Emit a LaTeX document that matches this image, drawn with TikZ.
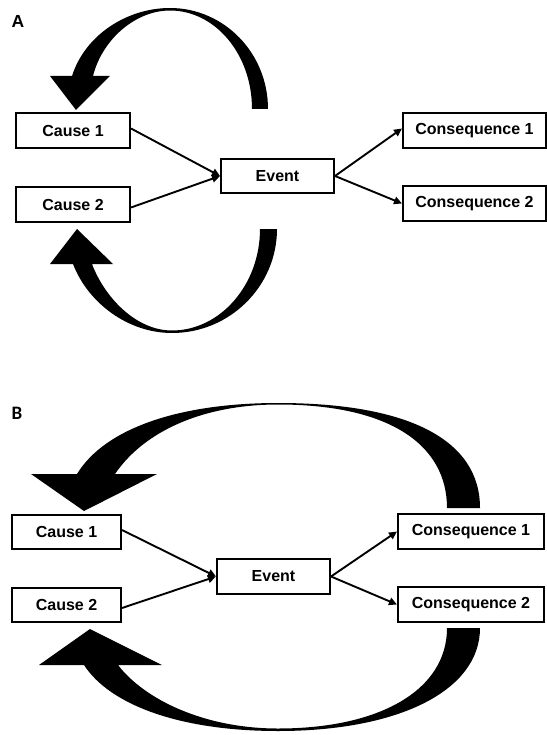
\documentclass[tikz,border=0pt]{standalone}
\usepackage{fontspec}
\setmainfont{Liberation Sans}
\newfontfamily\carlito{Carlito}
\usetikzlibrary{arrows.meta}
\tikzset{
  box/.style={draw, line width=2pt, rectangle, inner sep=0pt, font=\bfseries\fontsize{16}{19}\selectfont},
  conn/.style={line width=1.9pt, -{Triangle[length=8pt,width=7.5pt]}},
  biga/.style={fill=black},
  lbl/.style={inner sep=0pt, font=\bfseries\fontsize{17.5}{20}\selectfont}
}
\begin{document}
\begin{tikzpicture}[x=1pt,y=-1pt]
\useasboundingbox (0,0) rectangle (546,735);
\fill[white] (0,0) rectangle (546,735);
% ---------------- Panel A ----------------
\node[lbl] (la) at (18,21) {A};
\node[box, minimum width=114pt, minimum height=35pt] (a1) at (73,130.5) {Cause 1};
\node[box, minimum width=114pt, minimum height=35pt] (a2) at (73,204.5) {Cause 2};
\node[box, minimum width=113pt, minimum height=34pt] (ae) at (277.5,176) {Event};
\node[box, minimum width=143pt, minimum height=35pt] (aq1) at (474.5,130.5) {Consequence 1};
\node[box, minimum width=143pt, minimum height=35pt] (aq2) at (474.5,203.5) {Consequence 2};
\draw[conn] ([yshift=2pt]a1.east) -- (ae.west);
\draw[conn] ([yshift=-3pt]a2.east) -- (ae.west);
\draw[conn] (ae.east) -- ([yshift=2pt]aq1.west);
\draw[conn] (ae.east) -- (aq2.west);
% top curved arrow A
\fill[biga] (268,109) .. controls (268,53) and (224,8) .. (170,8)
  .. controls (127,8) and (85,35) .. (72,76)
  -- (50,76) -- (76,110) -- (110,76) -- (93,76)
  .. controls (102,40) and (135,10.5) .. (170,10.5)
  .. controls (215,10.5) and (252,54) .. (252,109) -- cycle;
% bottom curved arrow A
\fill[biga] (277,229) .. controls (277,286) and (230,333) .. (172,333)
  .. controls (128,333) and (88,303) .. (73,264)
  -- (50,264) -- (77,229) -- (113,264) -- (92,264)
  .. controls (104,296) and (135,330.5) .. (172,330.5)
  .. controls (220,330.5) and (260,285) .. (260,229) -- cycle;
% ---------------- Panel B ----------------
\node[lbl, font=\carlito\bfseries\fontsize{19}{22}\selectfont] (lb) at (17,413) {B};
\node[box, minimum width=109pt, minimum height=34pt] (b1) at (66.5,532) {Cause 1};
\node[box, minimum width=109pt, minimum height=34pt] (b2) at (66.5,605) {Cause 2};
\node[box, minimum width=113pt, minimum height=35pt] (be) at (273.5,576.5) {Event};
\node[box, minimum width=146pt, minimum height=35pt] (bq1) at (471,531.5) {Consequence 1};
\node[box, minimum width=146pt, minimum height=35pt] (bq2) at (471,604.5) {Consequence 2};
\draw[conn] ([yshift=2pt]b1.east) -- (be.west);
\draw[conn] ([yshift=-3pt]b2.east) -- (be.west);
\draw[conn] (be.east) -- (bq1.west);
\draw[conn] (be.east) -- (bq2.west);
% top curved arrow B
\fill[biga] (480,508) .. controls (480,440) and (409,403) .. (278,403)
  .. controls (180,403) and (105,428) .. (77,474)
  -- (31,474) -- (84,511) -- (157,474) -- (115,474)
  .. controls (145,430) and (205,404.5) .. (278,404.5)
  .. controls (390,404.5) and (447,445) .. (447,508) -- cycle;
% bottom curved arrow B
\fill[biga] (480,628) .. controls (480,690) and (400,731) .. (278,731)
  .. controls (180,731) and (110,705) .. (84,665)
  -- (39,665) -- (90,629) -- (162,665) -- (118,665)
  .. controls (145,700) and (205,728.5) .. (278,728.5)
  .. controls (380,728.5) and (447,690) .. (447,628) -- cycle;
\end{tikzpicture}
\end{document}
